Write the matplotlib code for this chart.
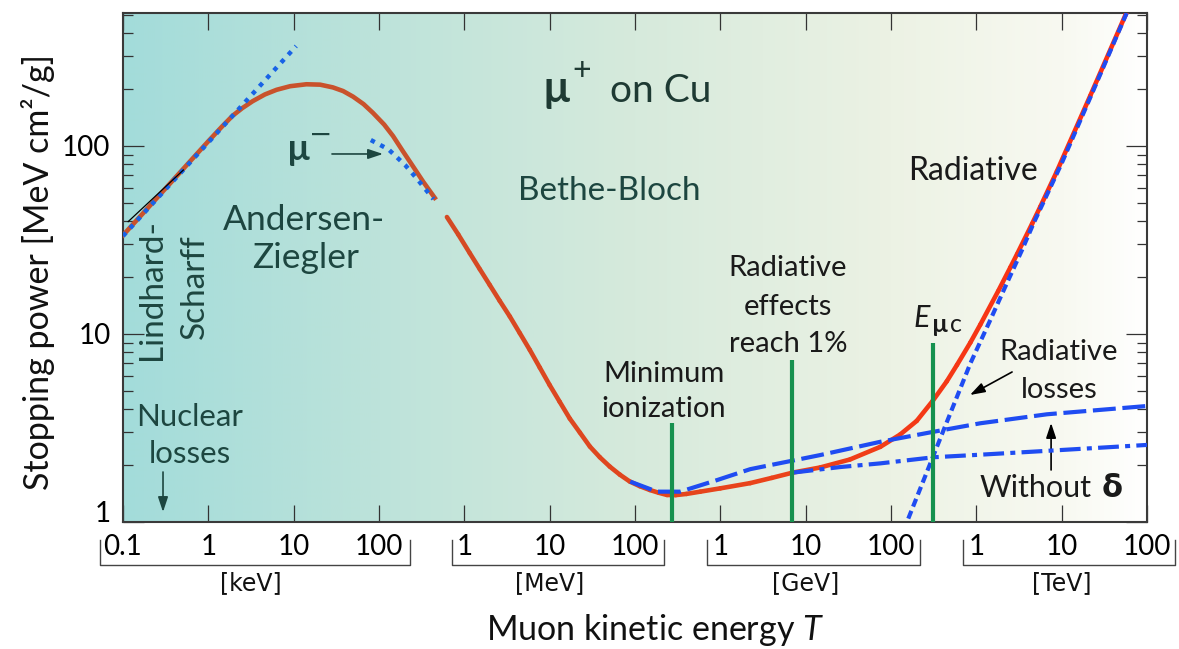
import numpy as np
import matplotlib
matplotlib.use("Agg")
import matplotlib.pyplot as plt
from matplotlib.collections import LineCollection
from matplotlib.colors import LinearSegmentedColormap
from matplotlib.ticker import LogLocator, NullFormatter, NullLocator

# Stopping power of muons in copper, S [MeV cm^2/g] vs kinetic energy T [MeV]

# mu+ at low energy (Andersen-Ziegler region)
az_T = [1.0e-4, 1.8e-4, 3.2e-4, 5.6e-4, 1.0e-3, 1.45e-3, 1.93e-3, 2.5e-3, 3.3e-3,
        4.6e-3, 6.3e-3, 9.1e-3, 1.41e-2, 2.04e-2, 2.88e-2, 3.8e-2, 4.97e-2, 6.6e-2,
        8.5e-2, 0.115, 0.146, 0.19, 0.25, 0.33, 0.45]
az_S = [33.5, 44.9, 59.9, 79.3, 106, 127, 145, 159, 173,
        188, 199, 208, 213, 212, 205, 196, 183, 167,
        150, 130, 113, 94, 78, 64.5, 53]

# mu+ total: Bethe-Bloch plus radiative
bb_T = [0.625, 0.85, 1.16, 1.52, 1.99, 2.6, 3.41, 4.47, 5.86, 7.66, 10.0, 13.1, 17.2,
        22.6, 29.6, 38.7, 50.7, 66.5, 87.1, 114, 149, 190, 237, 300, 400, 581, 1000,
        2240, 4000, 7010, 14800, 33000, 74800, 1.28e5, 2.0e5, 3.07e5, 4.5e5,
        5.93e5, 8.5e5, 1.11e6, 1.8e6, 2.5e6, 3.0e6, 4.5e6, 5.62e6, 8.78e6,
        2.16e7, 5.57e7, 7.0e7]
bb_S = [41.9, 33.8, 26.9, 22.1, 18.2, 15.0, 12.4, 10.1, 8.22, 6.63, 5.35, 4.36, 3.55,
        2.99, 2.52, 2.21, 1.97, 1.785, 1.64, 1.55, 1.48, 1.43, 1.392, 1.39, 1.41,
        1.45, 1.51, 1.61, 1.716, 1.83, 1.95, 2.15, 2.51, 2.92, 3.45, 4.4, 5.6,
        6.85, 9.0, 11.2, 16.9, 22.6, 26.6, 38.6, 47.6, 73.3, 185, 496, 629]

# ionization losses with delta rays
ion_T = [87.9, 181, 339, 912, 2240, 7010, 14800, 74800, 3.16e5, 1.11e6, 6.71e6, 1.0e8]
ion_S = [1.64, 1.45, 1.45, 1.67, 1.91, 2.12, 2.27, 2.67, 3.02, 3.35, 3.74, 4.14]

# ionization losses without delta rays
nod_T = [7010, 25400, 74800, 3.16e5, 1.11e6, 6.71e6, 1.0e8]
nod_S = [1.83, 1.96, 2.05, 2.21, 2.28, 2.39, 2.57]

# radiative losses
rad_T = [1.4e5, 4.14e5, 8.51e5, 1.46e6, 2.09e6, 3.43e6, 4.68e6, 1.0e7, 2.16e7, 5.57e7, 7.0e7]
rad_S = [0.9, 3.09, 6.98, 11.9, 17.1, 28, 38.8, 81, 181, 491, 620]

# Lindhard-Scharff sqrt(T) line and its short fit segment
ls_T = [1.0e-4, 1.07e-2]
ls_S = [33.2, 340]
lsfit_T = [1.15e-4, 5.1e-4]
lsfit_S = [39.6, 74.5]

# mu- (Barkas effect)
mum_T = [0.0802, 0.129, 0.202, 0.282, 0.434]
mum_S = [107.6, 96, 79.3, 66.5, 52.2]

# minimum ionization, radiative effects reach 1 %, muon critical energy
mark_T = [270, 7.0e3, 3.07e5]
mark_top = [3.36, 7.27, 8.96]

tick_T = [10.0 ** k for k in range(-4, 9)]
tick_labels = ["0.1", "1", "10", "100", "1", "10", "100",
               "1", "10", "100", "1", "10", "100"]
unit_labels = ["[keV]", "[MeV]", "[GeV]", "[TeV]"]
unit_lo = [1e-4, 1.0, 1e3, 1e6]
unit_hi = [1e-1, 1e2, 1e5, 1e8]

RED_LO = "#C9522C"
BLUE = "#1F4CF2"
BLUE_DOT = "#1863E6"
GREEN = "#16914F"
TEAL_TXT = "#1D4640"
DARK_TXT = "#1A1A1A"


def main():
    plt.rcParams["font.family"] = ["Lato", "DejaVu Sans"]
    plt.rcParams["mathtext.fontset"] = "custom"
    plt.rcParams["mathtext.rm"] = "Lato"
    plt.rcParams["mathtext.it"] = "Lato:italic"
    plt.rcParams["mathtext.bf"] = "Lato:bold"

    fig = plt.figure(figsize=(11.79, 6.49), dpi=100)
    pos = [0.1043, 0.1957, 0.8686, 0.7843]

    # gradient background behind the plot
    bg_ax = fig.add_axes(pos, zorder=0)
    bg = LinearSegmentedColormap.from_list(
        "bg", [(0.0, "#A3DCDA"), (0.25, "#BDE3DA"), (0.5, "#D6EADC"),
               (0.75, "#ECF2E4"), (0.92, "#F8F9F1"), (1.0, "#FFFFFF")])
    bg_ax.imshow(np.linspace(0, 1, 512)[None, :], cmap=bg, aspect="auto",
                 extent=[0, 1, 0, 1])
    bg_ax.axis("off")

    ax = fig.add_axes(pos, zorder=1)
    ax.set_facecolor("none")
    ax.set_xscale("log")
    ax.set_yscale("log")
    ax.set_xlim(1e-4, 1e8)
    ax.set_ylim(1, 510)

    # mu+ curve: low-energy part, then Bethe-Bloch/radiative with color shading
    ax.plot(az_T, az_S, color=RED_LO, lw=3.3, zorder=3, solid_joinstyle="round")
    lx = np.log10(bb_T)
    pts = np.column_stack([bb_T, bb_S])
    segs = np.stack([pts[:-1], pts[1:]], axis=1)
    red_cmap = LinearSegmentedColormap.from_list("red", ["#D44A24", "#EC4219", "#FF2C12"])
    frac = ((lx[:-1] + lx[1:]) / 2 - lx[0]) / (lx[-1] - lx[0])
    lc = LineCollection(segs, colors=red_cmap(frac), linewidths=3.3, zorder=3,
                        capstyle="round", joinstyle="round")
    ax.add_collection(lc)

    ax.plot(ion_T, ion_S, color=BLUE, lw=3, ls=(0, (5.5, 1.6)), zorder=4)
    ax.plot(nod_T, nod_S, color=BLUE, lw=3, ls=(0, (5, 1.5, 1.2, 1.5)), zorder=4)
    ax.plot(rad_T, rad_S, color=BLUE, lw=3, ls=(0, (2.0, 1.1)), zorder=4)
    ax.plot(ls_T, ls_S, color=BLUE_DOT, lw=3.2, ls=(0, (1.0, 1.4)), zorder=4)
    ax.plot(mum_T, mum_S, color=BLUE_DOT, lw=3.2, ls=(0, (1.0, 1.4)), zorder=4)
    ax.plot(lsfit_T, lsfit_S, color="black", lw=0.9, zorder=4)

    ax.vlines(mark_T, 1, mark_top, color=GREEN, lw=3, zorder=5)

    # axes styling
    for sp in ax.spines.values():
        sp.set_color("#3A3A3A")
        sp.set_linewidth(1.5)
    ax.set_xticks(tick_T, tick_labels)
    ax.xaxis.set_minor_locator(NullLocator())
    ax.tick_params(axis="x", which="major", direction="in", top=True, bottom=True,
                   length=12.5, width=0.9, color="#333333", pad=9, labelsize=20)
    ax.set_yticks([1, 10, 100], ["1", "10", "100"])
    ax.yaxis.set_minor_locator(LogLocator(base=10, subs=np.arange(2, 10)))
    ax.yaxis.set_minor_formatter(NullFormatter())
    ax.tick_params(axis="y", which="major", direction="in", left=True, right=True,
                   length=15, width=0.9, color="#333333", pad=9, labelsize=20)
    ax.tick_params(axis="y", which="minor", direction="in", left=True, right=True,
                   length=7, width=0.9, color="#333333")
    ax.get_yticklabels()[0].set_va("baseline")

    # unit brackets under the energy labels
    xtr = ax.get_xaxis_transform()
    pads = [(0.27, 0.36), (0.15, 0.34), (0.16, 0.34), (0.16, 0.33)]
    for lab, lo, hi, (pl, pr) in zip(unit_labels, unit_lo, unit_hi, pads):
        x0, x1 = lo / 10 ** pl, hi * 10 ** pr
        ax.plot([x0, x0, x1, x1], [-0.0354, -0.0845, -0.0845, -0.0354], transform=xtr,
                color="#444444", lw=1.0, clip_on=False)
        ax.text(np.sqrt(lo * hi), -0.12, lab, transform=xtr, ha="center", va="center",
                fontsize=17, family="DejaVu Sans", color="#111111")

    ax.text(0.52, -0.212, "Muon kinetic energy $T$", transform=ax.transAxes,
            ha="center", va="center", fontsize=24.5, color="#111111")
    ax.text(-0.083, 0.491, "Stopping power [MeV cm²/g]", transform=ax.transAxes,
            ha="center", va="center", rotation=90, fontsize=24.5, color="#111111")

    af = dict(transform=ax.transAxes)
    # title-like label
    ax.text(0.4092, 0.8251, "µ", fontsize=31, weight="bold", color="#1E3A33", va="baseline", **af)
    ax.text(0.4482, 0.886, "+", fontsize=23, color="#1E3A33", ha="center", va="center", **af)
    ax.text(0.4756, 0.8251, "on Cu", fontsize=28, color="#1E3A33", va="baseline", **af)

    # low-energy annotations
    ax.text(0.0283, 0.4558, "Lindhard-", rotation=90, fontsize=24, color=TEAL_TXT,
            ha="center", va="center", **af)
    ax.text(0.0703, 0.4617, "Scharff", rotation=90, fontsize=24, color=TEAL_TXT,
            ha="center", va="center", **af)
    ax.text(0.1768, 0.5737, "Andersen-", fontsize=25.5, color=TEAL_TXT, ha="center", va="baseline", **af)
    ax.text(0.1787, 0.499, "Ziegler", fontsize=25.5, color=TEAL_TXT, ha="center", va="baseline", **af)
    ax.text(0.0654, 0.1886, "Nuclear", fontsize=22.5, color=TEAL_TXT, ha="center", va="baseline", **af)
    ax.text(0.0654, 0.1159, "losses", fontsize=22.5, color=TEAL_TXT, ha="center", va="baseline", **af)
    ax.text(0.1602, 0.7112, "µ", fontsize=26, weight="bold", color=TEAL_TXT, va="baseline", **af)
    ax.text(0.1934, 0.7603, "−", fontsize=20, color=TEAL_TXT, ha="center", va="center",
            family=["DejaVu Sans"], **af)
    ax.text(0.4746, 0.6326, "Bethe-Bloch", fontsize=24, color=TEAL_TXT, ha="center", va="baseline", **af)

    # high-energy annotations
    ax.text(0.8301, 0.6719, "Radiative", fontsize=23, color=DARK_TXT, ha="center", va="baseline", **af)
    ax.text(0.5283, 0.275, "Minimum", fontsize=21, color=DARK_TXT, ha="center", va="baseline", **af)
    ax.text(0.5283, 0.2063, "ionization", fontsize=21, color=DARK_TXT, ha="center", va="baseline", **af)
    for txt, fy in zip(["Radiative", "effects", "reach 1%"], [0.4833, 0.4063, 0.334]):
        ax.text(0.6494, fy, txt, fontsize=21, color=DARK_TXT, ha="center", va="baseline", **af)
    ax.text(0.7715, 0.3831, "E", fontsize=22, style="italic", color=DARK_TXT, va="baseline", **af)
    ax.text(0.7901, 0.3733, "µ", fontsize=18, weight="bold", color=DARK_TXT, va="baseline", **af)
    ax.text(0.8072, 0.3733, "c", fontsize=18, color=DARK_TXT, va="baseline", **af)
    ax.text(0.9141, 0.3183, "Radiative", fontsize=21, color=DARK_TXT, ha="center", va="baseline", **af)
    ax.text(0.9141, 0.2436, "losses", fontsize=21, color=DARK_TXT, ha="center", va="baseline", **af)
    ax.text(0.8369, 0.0491, "Without", fontsize=22, color=DARK_TXT, va="baseline", **af)
    ax.text(0.956, 0.0491, "δ", fontsize=22, weight="bold", color=DARK_TXT, va="baseline",
            family=["DejaVu Sans"], **af)

    # arrows
    arrows = [((0.2041, 0.7230), (0.2539, 0.7230), TEAL_TXT),
              ((0.0391, 0.0982), (0.0391, 0.0196), TEAL_TXT),
              ((0.8682, 0.2947), (0.8271, 0.2495), "black"),
              ((0.9063, 0.1022), (0.9063, 0.1945), "black")]
    for tail, head, col in arrows:
        ax.annotate("", xy=head, xytext=tail, xycoords="axes fraction",
                    arrowprops=dict(arrowstyle="-|>,head_length=0.9,head_width=0.3",
                                    color=col, lw=1.2, shrinkA=0, shrinkB=0))

    fig.savefig("out.png", dpi=100)


if __name__ == "__main__":
    main()
